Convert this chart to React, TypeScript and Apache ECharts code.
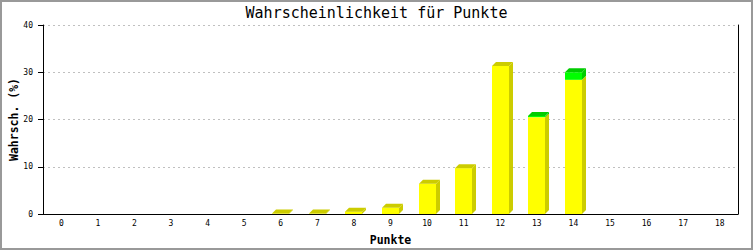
import React, { useEffect, useRef } from "react";
import * as echarts from "echarts";

const titleText = "Wahrscheinlichkeit für Punkte";
const yAxisName = "Wahrsch. (%)";
const xAxisName = "Punkte";
const categories = ["0","1","2","3","4","5","6","7","8","9","10","11","12","13","14","15","16","17","18"];
const yellowValues = [0,0,0,0,0,0,0.1,0.1,0.5,1.3,6.4,9.7,31.3,20.5,28.4,0,0,0,0];
const greenValues = [0,0,0,0,0,0,0,0,0,0,0,0,0,0.25,1.6,0,0,0,0];
const yTicks = [0, 10, 20, 30, 40];

const MONO = "'DejaVu Sans Mono', 'Liberation Mono', monospace";

export default function App() {
  const ref = useRef<HTMLDivElement>(null);
  useEffect(() => {
    document.body.style.margin = "0";
    if (!ref.current) return;
    const chart = echarts.init(ref.current, undefined, { renderer: "svg" });
    const data = categories.map((_, i) => [i, yellowValues[i], greenValues[i]]);
    const dx = 4;
    const dy = 4;
    const option: any = {
      animation: false,
      backgroundColor: "#ffffff",
      title: {
        text: titleText,
        left: "center",
        top: 0,
        textStyle: { fontFamily: MONO, fontSize: 15, fontWeight: "normal", color: "#000" },
      },
      grid: { left: 43, right: 15, top: 25, bottom: 36, containLabel: false, outerBoundsMode: "none" },
      xAxis: {
        type: "category",
        data: categories,
        name: xAxisName,
        nameLocation: "middle",
        nameGap: 20,
        nameMoveOverlap: false,
        nameTextStyle: { fontFamily: MONO, fontSize: 11.5, fontWeight: "bold", color: "#000" },
        axisLine: { lineStyle: { color: "#000", width: 1 } },
        axisTick: { show: false },
        axisLabel: { fontFamily: MONO, fontSize: 8, color: "#000", margin: 5 },
        splitLine: { show: false },
      },
      yAxis: [
        {
          type: "value",
          min: yTicks[0],
          max: yTicks[yTicks.length - 1],
          interval: 10,
          name: yAxisName,
          nameLocation: "middle",
          nameGap: 23,
          nameMoveOverlap: false,
          nameTextStyle: { fontFamily: MONO, fontSize: 11.5, fontWeight: "bold", color: "#000" },
          axisLine: { show: true, lineStyle: { color: "#000", width: 1 } },
          axisTick: { show: true, length: 5, lineStyle: { color: "#000" } },
          axisLabel: { fontFamily: MONO, fontSize: 8, color: "#000", margin: 10 },
          splitLine: { show: true, lineStyle: { color: "#c0c0c0", type: [2, 3], width: 1 } },
        },
        {
          type: "value",
          min: yTicks[0],
          max: yTicks[yTicks.length - 1],
          interval: 10,
          position: "right",
          axisLine: { show: true, lineStyle: { color: "#000", width: 1 } },
          axisTick: { show: false },
          axisLabel: { show: false },
          splitLine: { show: false },
        },
      ],
      graphic: [
        {
          type: "rect",
          shape: { x: 1, y: 1, width: 751, height: 248 },
          style: { fill: "none", stroke: "#999999", lineWidth: 2 },
          silent: true,
        },
      ],
      series: [
        {
          type: "custom",
          data,
          encode: { x: 0, y: [1, 2] },
          renderItem: (params: any, api: any) => {
            const i = api.value(0);
            const a = api.value(1);
            const b = api.value(2);
            if (a + b <= 0) return { type: "group", children: [] };
            const base = api.coord([i, 0]);
            const band = api.size([1, 0])[0];
            const w = Math.round(band * 0.465);
            const x = Math.round(base[0] - w / 2);
            const segs: any[] = [];
            if (a > 0) segs.push({ from: 0, to: a, front: "#ffff00", dark: "#cccc00" });
            if (b > 0) segs.push({ from: a, to: a + b, front: "#00ff00", dark: "#00cc00" });
            const children: any[] = [];
            segs.forEach((s, k) => {
              const y0 = api.coord([i, s.from])[1];
              const y1 = api.coord([i, s.to])[1];
              children.push({
                type: "polygon",
                shape: { points: [[x + w, y0], [x + w + dx, y0 - dy], [x + w + dx, y1 - dy], [x + w, y1]] },
                style: { fill: s.dark },
              });
              children.push({
                type: "rect",
                shape: { x, y: y1, width: w, height: Math.max(y0 - y1, 0) },
                style: { fill: s.front },
              });
              if (k === segs.length - 1) {
                children.push({
                  type: "polygon",
                  shape: { points: [[x, y1], [x + dx, y1 - dy], [x + w + dx, y1 - dy], [x + w, y1]] },
                  style: { fill: s.dark },
                });
              }
            });
            return { type: "group", children };
          },
        },
      ],
    };
    chart.setOption(option);
    return () => chart.dispose();
  }, []);
  return <div ref={ref} style={{ width: 753, height: 250 }} />;
}
